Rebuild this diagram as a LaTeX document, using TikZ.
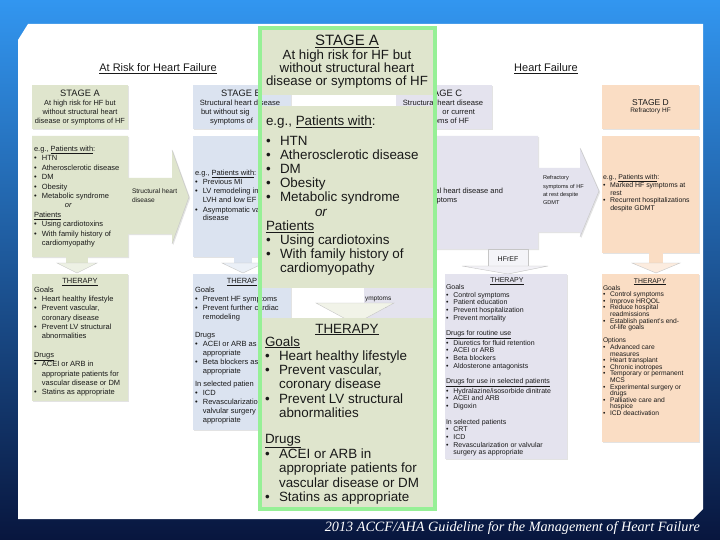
\documentclass[tikz,border=0pt]{standalone}
\usepackage{fontspec}
\setmainfont{Liberation Sans}
\newfontfamily\citefont{Liberation Serif}
\usetikzlibrary{shadows}
\definecolor{colA}{RGB}{223,229,205}
\definecolor{colB}{RGB}{219,227,240}
\definecolor{colC}{RGB}{228,227,238}
\definecolor{colD}{RGB}{250,221,196}
\definecolor{grn}{RGB}{150,240,150}
\definecolor{bgtop}{RGB}{50,150,240}
\definecolor{bgmid}{RGB}{25,90,190}
\definecolor{bgbot}{RGB}{8,22,62}
\definecolor{txtc}{RGB}{25,25,25}
\newcommand\bu{\makebox[1.05em][l]{\textbullet}}
\newcommand\ci{\hspace*{1.05em}}
\newcommand\fs[2]{\fontsize{#1}{#2}\selectfont}
\newcommand\blk[2]{\parbox[t]{#1}{\raggedright #2}}
\newcommand\cblk[2]{\parbox[t]{#1}{\centering #2}}
\tikzset{
  lbl/.style={anchor=base west, inner sep=0pt, outer sep=0pt, text=txtc},
  clbl/.style={anchor=base, inner sep=0pt, outer sep=0pt, text=txtc},
  rlbl/.style={anchor=base east, inner sep=0pt, outer sep=0pt, text=txtc},
  tip/.style={draw=gray!45, line width=0.4pt},
  shd/.style={drop shadow={shadow xshift=1.2pt, shadow yshift=-1.2pt, opacity=0.22}},
}
\begin{document}
\begin{tikzpicture}[x=1pt,y=-1pt]
\useasboundingbox (0,0) rectangle (720,540);
\shade[top color=bgtop, middle color=bgmid, bottom color=bgbot] (0,0) rectangle (720,540);
\fill[white] (18,40) -- (28,24) -- (703,24) -- (703,509) -- (693,519) -- (18,519) -- cycle;

% headings
\node[clbl] (hRisk) at (158,72) {\fs{11}{12}\underline{At Risk for Heart Failure}};
\node[clbl] (hHF) at (546,72) {\fs{11}{12}\underline{Heart Failure}};

% ---------- Stage A (small) ----------
\path[fill=colA, shd] (32,85) rectangle (128,129);
\node[clbl] (aHead) at (80,96.5) {\cblk{96pt}{\fs{9.3}{9}STAGE A\\\fs{7.4}{9}At high risk for HF but\\without structural heart\\disease or symptoms of HF}};
\path[fill=colA, shd] (32,136) -- (128,136) -- (128,178) -- (172,178) -- (172,150) -- (189,197) -- (172,244) -- (172,234) -- (128,234) -- (128,257) -- (32,257) -- cycle;
\draw[tip] (172,150) -- (189,197) -- (172,244);
\node[lbl] (aBody) at (34,151.5) {\blk{94pt}{\fs{7.5}{9.4}e.g., \underline{Patients with}:\\\bu HTN\\\bu Atherosclerotic disease\\\bu DM\\\bu Obesity\\\bu Metabolic syndrome\\\hspace*{31pt}\textit{or}\\\underline{Patients}\\\bu Using cardiotoxins\\\bu With family history of\\\ci cardiomyopathy}};
\node[lbl] (abArrow) at (132,194) {\blk{50pt}{\fs{6.6}{8.5}Structural heart\\disease}};
\fill[colA] (66,257) rectangle (88,263);
\filldraw[tip, fill=colA!55] (57,263) -- (97,263) -- (77,273) -- cycle;
\path[fill=colA, shd] (32,274) rectangle (128,401);
\node[clbl] (aThT) at (80,283.5) {\fs{7.5}{9}\underline{THERAPY}};
\node[lbl] (aTh) at (34,292.5) {\blk{94pt}{\fs{7.5}{9.2}Goals\\\bu Heart healthy lifestyle\\\bu Prevent vascular,\\\ci coronary disease\\\bu Prevent LV structural\\\ci abnormalities\\[10pt]\underline{Drugs}\\\bu ACEI or ARB in\\\ci appropriate patients for\\\ci vascular disease or DM\\\bu Statins as appropriate}};

% ---------- Stage B (partly hidden) ----------
\path[fill=colB, shd] (193,85) rectangle (291,129);
\path[fill=colB, shd] (193,136) rectangle (291,257);
\fill[colB] (234,257) rectangle (252,263);
\filldraw[tip, fill=colB!55] (222,263) -- (264,263) -- (243,273) -- cycle;
\path[fill=colB, shd] (193,274) rectangle (291,430);
\begin{scope}
\clip (0,0) rectangle (259,540);
\node[clbl] (bStage) at (241,96.5) {\fs{9.3}{9}STAGE B};
\node[lbl] (bHead2) at (201,114.5) {\fs{7.6}{9}but without sig};
\node[lbl] (bHead3) at (210,123.5) {\fs{7.6}{9}symptoms of};
\node[lbl] (bBody) at (195,176) {\blk{94pt}{\fs{7.5}{9}e.g., \underline{Patients with}:\\\bu Previous MI\\\bu LV remodeling in\\\ci LVH and low EF\\\bu Asymptomatic va\\\ci disease}};
\node[clbl] (bThT) at (242,283.5) {\fs{7.5}{9}\underline{THERAP}};
\node[lbl] (bTh2) at (195,337.5) {\blk{94pt}{\fs{7.5}{9}Drugs\\\bu ACEI or ARB as\\\ci appropriate\\\bu Beta blockers as\\\ci appropriate\\[4pt]In selected patien\\\bu ICD\\\bu Revascularization\\\ci valvular surgery\\\ci appropriate}};
\end{scope}
\node[clbl] (bHead1) at (240,105.5) {\fs{7.6}{9}Structural heart disease};
\node[lbl] (bTh1) at (195,292.5) {\blk{94pt}{\fs{7.5}{9}Goals\\\bu Prevent HF symptoms\\\bu Prevent further cardiac\\\ci remodeling}};

% ---------- Stage C ----------
\path[fill=colC, shd] (396,85) rectangle (492,129);
\begin{scope}
\clip (437,0) rectangle (720,540);
\node[clbl] (cStage) at (442,96.5) {\fs{9.3}{9}STAGE C};
\node[rlbl] (cHead2) at (475,114.5) {\fs{7.6}{9}or current};
\node[rlbl] (cHead3) at (469,123.5) {\fs{7.6}{9}toms of HF};
\end{scope}
\node[clbl] (cHead1) at (443,105.5) {\fs{7.6}{9}Structural heart disease};
\path[fill=colC, shd] (398,136) -- (538,136) -- (538,168) -- (580,168) -- (580,148) -- (599,191) -- (580,237) -- (580,232) -- (538,232) -- (538,249) -- (398,249) -- cycle;
\draw[tip] (580,148) -- (599,191) -- (580,237);
\node[rlbl] (cBody1) at (503,194) {\fs{7.5}{8}al heart disease and};
\node[rlbl] (cBody2) at (457,202.5) {\fs{7.5}{8}mptoms};
\node[lbl] (cdArrow) at (543,180) {\blk{46pt}{\fs{5.6}{8.3}Refractory\\symptoms of HF\\at rest despite\\GDMT}};
\filldraw[tip, fill=white!60!colC] (488,249) rectangle (528,266);
\node[clbl] (hfref) at (508,261) {\fs{7}{8}HFrEF};
\filldraw[tip, fill=colC!50] (462,266) -- (548,266) -- (508,274) -- cycle;
\path[fill=colC, shd] (445,274) rectangle (567,459);
\node[clbl] (cThT) at (507,282.5) {\fs{7}{8}\underline{THERAPY}};
\node[lbl] (cTh) at (446,289.5) {\blk{120pt}{\fs{7}{7.7}Goals\\\bu Control symptoms\\\bu Patient education\\\bu Prevent hospitalization\\\bu Prevent mortality\\[7.7pt]\underline{Drugs for routine use}\\\bu Diuretics for fluid retention\\\bu ACEI or ARB\\\bu Beta blockers\\\bu Aldosterone antagonists\\[7.7pt]\underline{Drugs for use in selected patients}\\\bu Hydralazine/isosorbide dinitrate\\\bu ACEI and ARB\\\bu Digoxin\\[7.7pt]In selected patients\\\bu CRT\\\bu ICD\\\bu Revascularization or valvular\\\ci surgery as appropriate}};
% HFpEF therapy box (mostly hidden)
\fill[colC] (364,274) rectangle (433,420);
\node[lbl] (pTh1) at (365,300.5) {\fs{6.5}{7}ymptoms};
\node[lbl] (pTh2) at (368,308) {\fs{6.5}{7}RQOL};

% ---------- Stage D ----------
\path[fill=colD, shd] (602,85) rectangle (699,129);
\node[clbl] (dHead) at (650.5,105.5) {\cblk{96pt}{\fs{8.5}{7.5}STAGE D\\\fs{6.5}{7.5}Refractory HF}};
\path[fill=colD, shd] (602,136) rectangle (699,253);
\node[lbl] (dBody) at (603,179.5) {\blk{95pt}{\fs{6.9}{7.8}e.g., \underline{Patients with}:\\\bu Marked HF symptoms at\\\ci rest\\\bu Recurrent hospitalizations\\\ci despite GDMT}};
\fill[colD] (649,253) rectangle (663,263);
\filldraw[tip, fill=colD!55] (632,263) -- (680,263) -- (656,273) -- cycle;
\path[fill=colD, shd] (602,274) rectangle (699,442);
\node[clbl] (dThT) at (650,283) {\fs{6.8}{7}\underline{THERAPY}};
\node[lbl] (dTh) at (603,290) {\blk{95pt}{\fs{6.7}{6.6}Goals\\\bu Control symptoms\\\bu Improve HRQOL\\\bu Reduce hospital\\\ci readmissions\\\bu Establish patient's end-\\\ci of-life goals\\[6.6pt]Options\\\bu Advanced care\\\ci measures\\\bu Heart transplant\\\bu Chronic inotropes\\\bu Temporary or permanent\\\ci MCS\\\bu Experimental surgery or\\\ci drugs\\\bu Palliative care and\\\ci hospice\\\bu ICD deactivation}};

% ---------- Magnified Stage A overlay ----------
\fill[colA] (262,30) rectangle (433,95);
\fill[colA] (262,106) rectangle (433,288);
\filldraw[tip, fill=colA!45] (316,303) -- (394,303) -- (355,324) -- cycle;
\fill[colA] (262,318) rectangle (433,507);
\draw[grn, line width=4pt] (260,28) rectangle (435,509);

\node[clbl] (oStage) at (347,46) {\fs{15}{15}\underline{STAGE A}};
\node[clbl] (oHead) at (347,60) {\cblk{170pt}{\fs{13.3}{12.9}At high risk for HF but\\without structural heart\\disease or symptoms of HF}};
\node[lbl] (oBody) at (266,126) {\blk{168pt}{\fs{13.4}{14.2}e.g., \underline{Patients with}:\\[5pt]\bu HTN\\\bu Atherosclerotic disease\\\bu DM\\\bu Obesity\\\bu Metabolic syndrome\\\hspace*{49pt}\textit{or}\\\underline{Patients}\\\bu Using cardiotoxins\\\bu With family history of\\\ci cardiomyopathy}};
\node[clbl] (oThT) at (347,333) {\fs{13.4}{14}\underline{THERAPY}};
\node[lbl] (oTh) at (265,346) {\blk{168pt}{\fs{13.4}{14.3}\underline{Goals}\\\bu Heart healthy lifestyle\\\bu Prevent vascular,\\\ci coronary disease\\\bu Prevent LV structural\\\ci abnormalities\\[11.2pt]\underline{Drugs}\\\bu ACEI or ARB in\\\ci appropriate patients for\\\ci vascular disease or DM\\\bu Statins as appropriate}};

% citation
\node[anchor=base east, inner sep=0pt, text=white] (cite) at (700,531) {\citefont\itshape\fs{14.2}{15}2013 ACCF/AHA Guideline for the Management of Heart Failure};
\end{tikzpicture}
\end{document}
